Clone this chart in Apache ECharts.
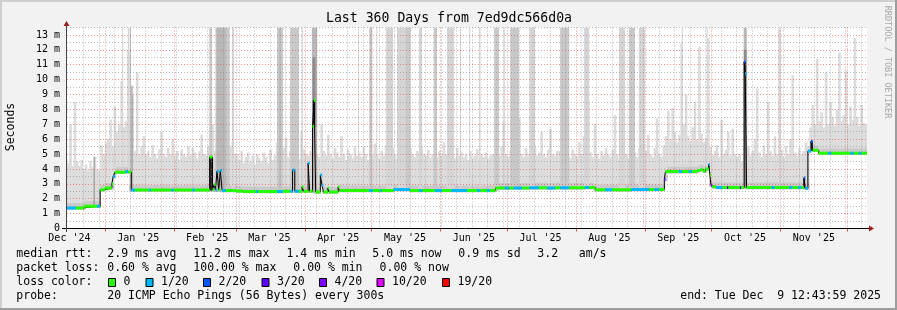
<!DOCTYPE html>
<html><head><meta charset="utf-8">
<script src="https://cdn.jsdelivr.net/npm/echarts@6/dist/echarts.min.js"></script>
<style>html,body{margin:0;padding:0;background:#f2f2f2}#c{width:897px;height:310px}</style>
</head><body><div id="c"></div><script>
const FONT = "'DejaVu Sans Mono', monospace";
const START = Date.UTC(2024, 11, 14, 22);
const DAY = 86400000;
const SPAN_DAYS = 360;
const Y_MAX = 13.5;

const monthLabels = ["Dec '24","Jan '25","Feb '25","Mar '25","Apr '25","May '25","Jun '25","Jul '25","Aug '25","Sep '25","Oct '25","Nov '25"];
const monthLabelYM = [[2024,11],[2025,0],[2025,1],[2025,2],[2025,3],[2025,4],[2025,5],[2025,6],[2025,7],[2025,8],[2025,9],[2025,10]];
const monthStartYM = [[2025,0],[2025,1],[2025,2],[2025,3],[2025,4],[2025,5],[2025,6],[2025,7],[2025,8],[2025,9],[2025,10],[2025,11]];
const firstWeekLine = Date.UTC(2024, 11, 22, 6);
const yTicks = [0,1,2,3,4,5,6,7,8,9,10,11,12,13];
const yMinorTicks = [0.5,1.5,2.5,3.5,4.5,5.5,6.5,7.5,8.5,9.5,10.5,11.5,12.5,13.5];

const lossColors = ['#26ff00','#00b8ff','#0059ff','#5e00ff','#7e00ff','#dd00ff','#ff0000'];
const lossLabels = ['0','1/20','2/20','3/20','4/20','10/20','19/20'];

// median rtt (ms): [day from start, value, loss colour index]
const medianPts = [
[0,1.38,1],[4,1.38,0],[7.5,1.5,0],[13.5,1.5,1],[14.9,2.6,0],[17,2.72,0],[20.2,3.0,0],[20.8,3.5,1],[21.6,3.78,0],
[26.3,3.82,1],[27.5,3.8,0],[28.9,2.58,1],[30.6,2.58,0],[37,2.58,1],[37.8,2.58,0],[47,2.58,1],[48,2.58,0],
[56.5,2.58,1],[57.6,2.58,0],[64.2,4.8,0],[65.5,2.6,0],[66.2,2.95,0],[66.8,2.58,1],[67.5,3.85,1],[68.3,2.6,0],
[69.0,3.9,1],[69.8,2.55,1],[71.5,2.55,0],[76,2.52,0],[79,2.48,0],[85,2.48,1],[86,2.48,0],[94.5,2.48,1],
[97.2,2.5,0],[100.4,2.5,1],[101.5,3.93,1],[102.5,2.5,1],[104.4,2.5,0],[105.8,2.8,0],[106.5,2.5,0],
[108.5,4.4,1],[109.2,2.5,0],[110.5,6.85,0],[111.2,8.6,0],[111.9,2.45,0],[114,3.6,1],[114.8,2.9,1],
[115.4,2.45,0],[117.4,2.72,0],[118,2.45,0],[122,2.8,0],[122.6,2.55,0],[136,2.55,1],[137.6,2.55,0],
[140.8,2.55,1],[141.6,2.55,0],[147,2.62,1],[154.4,2.55,0],[158.5,2.55,1],[160,2.55,0],[165.6,2.55,1],
[168.8,2.55,0],[173,2.55,1],[180,2.55,0],[184.5,2.55,1],[186,2.55,0],[189,2.55,1],[190.4,2.55,0],
[192.8,2.72,0],[197,2.72,1],[199,2.72,0],[201,2.72,1],[204.8,2.72,0],[208,2.74,1],[212.4,2.74,0],
[216,2.72,1],[219.6,2.74,0],[222,2.74,1],[226,2.74,0],[233,2.75,1],[235,2.75,0],[237.7,2.6,0],
[242.2,2.6,1],[245.3,2.6,0],[254,2.62,1],[262,2.62,0],[264.3,2.62,1],[266.5,2.62,0],[268.8,3.3,3],
[269.3,3.82,0],[275.3,3.82,1],[276.8,3.82,0],[279.8,3.82,1],[281.2,3.82,0],[283.5,3.9,0],[285,3.95,0],
[286.2,3.85,0],[287.3,4.0,0],[288.8,4.3,1],[289.3,3.6,0],[289.8,2.9,4],[290.3,2.8,0],[292,2.76,1],
[295,2.76,0],[297,2.76,3],[297.6,2.76,0],[302.8,2.76,3],[303.3,2.76,0],[304.7,11.2,2],[305.2,10.4,1],
[305.8,2.76,0],[317,2.76,1],[318.5,2.76,0],[325,2.76,1],[326.5,2.76,0],[329,2.76,1],[330.5,2.76,0],
[331.6,3.4,2],[332.2,2.7,1],[333.4,5.2,1],[334.8,5.85,2],[335.5,5.25,0],[338.3,5.05,0],[342.5,5.05,1],
[344,5.05,0],[352.5,5.05,1],[354,5.05,0],[356.3,5.05,1],[357.5,5.05,0]
];

// upper edge of the light smoke, one value per day (ms)
const smokeTop = [
4.4,7.0,4.2,8.5,4.5,4.2,4.6,4.0,4.3,3.9,4.5,4.1,4.8,4.0,3.9,
5.6,5.0,5.8,6.0,7.3,5.5,
8.2,6.5,7.0,9.9,6.8,7.2,12.0,7.0,
9.0,5.2,10.5,5.0,5.5,6.2,5.0,
5.2,4.8,5.6,5.0,4.7,5.3,6.5,5.0,4.8,5.4,5.0,6.0,4.9,5.2,4.6,5.3,5.0,4.8,5.5,4.9,5.4,5.1,4.7,5.2,6.3,5.0,4.9,5.5,
6.5,7.0,5.2,6.0,5.5,5.0,6.0,5.2,5.0,5.5,5.8,5.0,
5.0,4.6,5.2,4.4,4.8,5.1,4.5,4.9,4.3,5.0,4.7,4.5,5.1,4.8,4.4,5.3,4.6,4.9,5.8,4.5,
5.0,5.4,6.1,4.8,5.2,4.9,5.6,5.0,4.7,6.5,5.3,5.0,4.9,5.2,5.5,
5.3,5.0,4.8,7.0,5.2,4.9,6.3,5.0,4.7,5.4,5.1,4.8,6.2,5.0,4.6,5.3,5.0,4.7,5.5,4.9,
5.1,4.8,5.5,5.0,4.6,5.3,4.9,5.7,5.0,4.7,5.2,4.9,5.6,5.0,4.8,5.4,5.0,4.7,5.2,6.0,4.9,5.1,4.7,5.4,5.0,4.8,5.2,4.9,5.5,5.0,
4.9,5.3,4.7,5.0,5.6,4.8,5.2,4.9,5.8,5.0,4.6,5.3,5.0,4.7,5.4,4.9,5.1,4.8,5.0,4.6,5.2,4.7,4.9,5.3,4.6,5.0,4.8,5.1,4.7,4.9,
5.0,4.8,5.3,4.9,5.5,7.2,5.0,4.8,5.2,5.6,4.9,5.3,7.4,5.0,4.8,5.4,5.0,4.7,5.2,5.5,4.9,5.1,6.5,5.0,4.8,5.3,6.7,5.0,4.9,5.2,
5.2,4.8,5.0,5.5,4.9,4.7,5.3,5.0,4.8,5.8,5.0,6.2,4.9,8.5,5.1,4.8,7.0,5.0,4.7,5.2,4.9,5.4,5.0,4.8,5.3,7.6,5.0,4.7,5.1,4.9,
5.0,4.7,5.3,4.9,5.1,4.8,5.4,5.0,4.6,5.2,6.3,5.0,4.8,5.4,7.4,5.0,4.8,5.6,
6.2,7.9,6.0,8.1,6.5,5.8,6.3,12.5,7.0,9.0,6.2,5.9,6.8,8.5,6.0,12.2,6.4,5.8,6.1,
12.8,5.5,4.9,5.2,5.6,4.8,7.3,5.0,5.3,6.5,4.9,6.7,5.0,
4.8,5.0,4.5,null,12.0,
5.5,4.9,5.2,6.0,9.4,5.1,4.8,5.6,5.0,8.5,5.2,4.9,6.2,5.0,13.4,5.3,4.8,5.5,5.0,6.0,10.3,5.1,4.9,5.4,5.0,
5.2,5.8,5.5,6.8,8.3,7.0,11.4,
7.2,7.8,6.8,10.5,7.0,8.5,7.5,6.9,8.0,11.8,7.2,7.6,10.6,7.0,8.2,7.3,12.8,7.5,6.9,8.3,7.1,7.0
];

// darker smoke columns: [start day, end day, top (ms), shade index]
const columns = [
[12.0,12.4,4.8,3],[24.8,25.3,13.5,0],[27.4,27.9,13.5,0],[28.2,28.8,13.5,1],[29.0,29.5,9.6,3],
[64.0,65.3,13.5,1],[64.2,65.6,4.8,4],[66.8,73.2,13.5,1],[67.3,71.5,13.5,2],[67.5,68.3,3.85,4],[69.0,69.8,3.9,4],
[74.2,75.2,13.5,0],[94.5,97.2,13.5,1],[95.5,96.2,13.5,2],[100.4,104.4,13.5,1],[101.5,102.5,3.93,4],
[105.8,106.2,13.5,0],[108.5,109.2,4.4,4],[110.2,112.6,13.5,2],[110.5,111.8,11.5,3],[110.6,111.7,8.6,4],
[114.0,114.8,3.6,4],[131.0,131.4,13.5,0],[136.0,137.4,13.5,1],[139.2,139.6,13.5,0],[143.5,146.8,13.5,0],
[148.5,154.6,13.5,0],[152.5,154.4,13.5,1],[158.4,159.8,13.5,0],[165.0,166.5,13.5,1],[171.0,174.2,13.5,0],
[176.8,177.3,13.5,0],[181.0,181.4,13.5,0],[185.4,186.1,13.5,0],[192.2,194.4,13.5,1],[196.5,197.0,13.5,0],
[199.4,203.4,13.5,1],[208.0,210.6,13.5,0],[221.9,226.0,13.5,1],[232.7,235.0,13.5,0],[248.4,251.1,13.5,0],
[252.9,255.6,13.5,1],[257.4,260.1,13.5,0],[276.6,277.1,13.5,0],[287.8,288.3,13.5,0],[288.8,289.2,4.3,4],
[304.5,305.9,13.5,2],[304.6,305.8,12.0,3],[304.7,305.5,11.2,4],[320.4,320.9,13.5,0],[331.5,332.2,3.4,4],
[335.0,335.7,5.9,4]
];
const shades = ['#d4d4d4','#c8c8c8','#b8b8b8','#8c8c8c','#2a2a2a'];

const dayOf = t => (t - START) / DAY;
const monthLabelDays = monthLabelYM.map(([y,m]) => dayOf(Date.UTC(y,m,16)));
const monthStartDays = monthStartYM.map(([y,m]) => dayOf(Date.UTC(y,m,1)));
const weekDays = [];
for (let t = firstWeekLine; dayOf(t) < SPAN_DAYS; t += 7*DAY) weekDays.push(dayOf(t));

function medianAt(d){ let v = medianPts[0][1]; for (const p of medianPts){ if (p[0] <= d) v = p[1]; else break; } return v; }
function medianLowIn(a,b){ let m = medianAt(a); for (const p of medianPts){ if (p[0] > a && p[0] < b) m = Math.min(m, p[1]); } return m; }

const smokeData = [], coreData = [];
smokeTop.forEach((v,i) => {
  if (v == null) return;
  const base = medianLowIn(i, i+1) - 0.12;
  smokeData.push([i, Math.max(v, base+0.5), base]);
  coreData.push([i, base+0.45, base]);
});
const colData = columns.map(c => [c[0], c[2], medianLowIn(c[0], c[1]) - 0.05, c[1], c[3]]);
const medLine = medianPts.map(p => [p[0], p[1]]);
medLine.push([SPAN_DAYS, medianPts[medianPts.length-1][1]]);
const medSeg = medianPts.map((p,i) => [p[0], p[1], p[2], i+1 < medianPts.length ? medianPts[i+1][0] : SPAN_DAYS]);

function bandRender(color){
  return function(params, api){
    const d = api.value(0), top = api.value(1), base = api.value(2);
    const a = api.coord([d, top]), b = api.coord([d+1, base]);
    return {type:'rect', shape:{x:a[0], y:a[1], width:b[0]-a[0]+0.4, height:b[1]-a[1]}, style:{fill:color}};
  };
}

const chart = echarts.init(document.getElementById('c'), null, {renderer:'canvas'});
const G = [];
G.push({type:'rect', shape:{x:0,y:0,width:897,height:2}, style:{fill:'#cfcfcf'}, silent:true});
G.push({type:'rect', shape:{x:0,y:0,width:2,height:310}, style:{fill:'#cfcfcf'}, silent:true});
G.push({type:'rect', shape:{x:0,y:308,width:897,height:2}, style:{fill:'#9e9e9e'}, silent:true});
G.push({type:'rect', shape:{x:895,y:0,width:2,height:310}, style:{fill:'#9e9e9e'}, silent:true});
const txt = (text, x, y, opt={}) => ({type:'text', x, y, rotation: opt.rot||0, z:20, style:Object.assign({text, fill:'#000', font:(opt.size||11.5)+'px '+FONT, align:opt.align||'left', verticalAlign:'middle'}, opt.style||{})});
G.push(txt('Last 360 Days from 7ed9dc566d0a', 449, 19, {size:13.2, align:'center'}));
G.push(txt('Seconds', 11, 127, {rot:Math.PI/2, align:'center', size:11.5}));
G.push(txt('RRDTOOL / TOBI OETIKER', 887, 62, {rot:-Math.PI/2, align:'center', size:8.5, style:{fill:'#a8a8a8'}}));
// axis extensions and arrows
G.push({type:'line', shape:{x1:62,y1:228.5,x2:869,y2:228.5}, style:{stroke:'#000', lineWidth:1}, z:15});
G.push({type:'line', shape:{x1:66.5,y1:232,x2:66.5,y2:25}, style:{stroke:'#444', lineWidth:1}, z:15});
G.push({type:'polygon', shape:{points:[[869,225.5],[874,228.5],[869,231.5]]}, style:{fill:'#9b1c1c'}, z:16});
G.push({type:'polygon', shape:{points:[[63.5,26],[66.5,21],[69.5,26]]}, style:{fill:'#9b1c1c'}, z:16});
// legend lines
const r1 = 254.3, r2 = 268.3, r3 = 282.3, r4 = 296.3;
G.push(txt('median rtt:', 16.3, r1)); G.push(txt('2.9 ms avg', 107.3, r1)); G.push(txt('11.2 ms max', 193.3, r1));
G.push(txt('1.4 ms min', 286.5, r1)); G.push(txt('5.0 ms now', 372.3, r1)); G.push(txt('0.9 ms sd', 458.3, r1));
G.push(txt('3.2   am/s', 537.3, r1));
G.push(txt('packet loss:', 16.3, r2)); G.push(txt('0.60 % avg', 107.3, r2)); G.push(txt('100.00 % max', 193.3, r2));
G.push(txt('0.00 % min', 293.3, r2)); G.push(txt('0.00 % now', 379.6, r2));
G.push(txt('loss color:', 16.3, r3));
const boxX = [108.5, 146, 203.5, 262, 319.5, 377, 442.5];
lossLabels.forEach((l,i) => {
  G.push({type:'rect', shape:{x:boxX[i], y:278.5, width:7, height:8}, style:{fill:lossColors[i], stroke:'#000', lineWidth:1}, z:20});
  G.push(txt(l, boxX[i]+15, r3));
});
G.push(txt('probe:', 16.3, r4)); G.push(txt('20 ICMP Echo Pings (56 Bytes) every 300s', 107.3, r4));
G.push(txt('end: Tue Dec  9 12:43:59 2025', 881, r4, {align:'right'}));

const majorLine = {show:true, lineStyle:{color:'rgba(235,60,60,0.55)', type:[1,2], width:1}};
const minorLine = {show:true, lineStyle:{color:'rgba(140,140,140,0.6)', type:[1,2], width:1}};

chart.setOption({
  animation:false,
  backgroundColor:'#f2f2f2',
  grid:{left:67, right:30, top:27.5, bottom:81.5, show:true, backgroundColor:'#ffffff', borderWidth:0},
  xAxis:[
    {type:'value', min:0, max:SPAN_DAYS, z:4, position:'bottom',
     axisLine:{show:false},
     axisTick:{show:true, length:3, customValues:monthStartDays, lineStyle:{color:'#e05050'}},
     axisLabel:{show:true, customValues:monthLabelDays, margin:5, color:'#000', fontFamily:FONT, fontSize:10,
       formatter:v => { let best=0; monthLabelDays.forEach((d,i)=>{ if (Math.abs(d-v) < Math.abs(monthLabelDays[best]-v)) best=i; }); return monthLabels[best]; }},
     splitLine:majorLine},
    {type:'value', min:0, max:SPAN_DAYS, z:3, position:'bottom',
     axisLine:{show:false}, axisLabel:{show:false},
     axisTick:{show:false, customValues:weekDays}, splitLine:minorLine}
  ],
  yAxis:[
    {type:'value', min:0, max:Y_MAX, z:4, position:'left',
     axisLine:{show:false}, axisTick:{show:false, customValues:yTicks},
     axisLabel:{customValues:yTicks, margin:7, color:'#000', fontFamily:FONT, fontSize:10,
       formatter:v => v === 0 ? '0' : v + ' m'},
     splitLine:majorLine},
    {type:'value', min:0, max:Y_MAX, z:3, position:'left',
     axisLine:{show:false}, axisLabel:{show:false},
     axisTick:{show:false, customValues:yMinorTicks}, splitLine:minorLine}
  ],
  graphic:G,
  series:[
    {type:'custom', name:'smoke', z:1, clip:true, encode:{x:0, y:1}, data:smokeData, renderItem:bandRender('#dcdcdc')},
    {type:'custom', name:'core', z:1, clip:true, encode:{x:0, y:1}, data:coreData, renderItem:bandRender('#c9c9c9')},
    {type:'custom', name:'columns', z:2, clip:true, encode:{x:0, y:1}, data:colData,
     renderItem:(params, api) => {
       const a = api.coord([api.value(0), api.value(1)]), b = api.coord([api.value(3), api.value(2)]);
       return {type:'rect', shape:{x:a[0], y:a[1], width:Math.max(b[0]-a[0],1), height:b[1]-a[1]}, style:{fill:shades[api.value(4)]}};
     }},
    {type:'line', name:'median', z:5, step:'end', showSymbol:false, symbol:'none', data:medLine,
     lineStyle:{color:'#000', width:1}},
    {type:'custom', name:'loss', z:6, clip:true, encode:{x:0, y:1}, data:medSeg,
     renderItem:(params, api) => {
       const v = api.value(1);
       const a = api.coord([api.value(0), v]), b = api.coord([api.value(3), v]);
       return {type:'rect', shape:{x:a[0], y:a[1]-1.5, width:Math.max(b[0]-a[0],1.2), height:3}, style:{fill:lossColors[api.value(2)]}};
     }}
  ]
});
</script></body></html>
